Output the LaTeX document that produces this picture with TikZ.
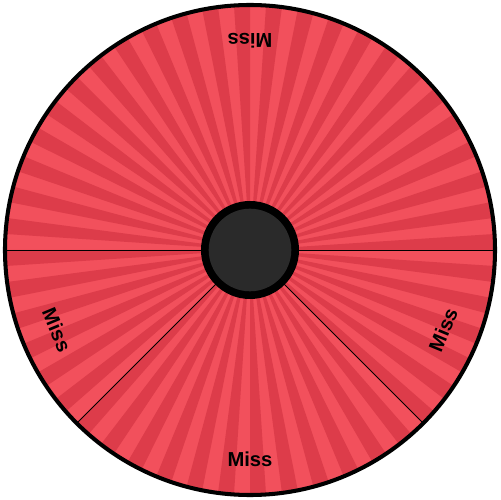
\documentclass[tikz,border=0pt]{standalone}
\usepackage{fontspec}
\setmainfont{Liberation Sans}
\usepackage{tikz}
\usetikzlibrary{calc}
\usepackage{xcolor}
\definecolor{WheelLight}{HTML}{F2505C}
\definecolor{WheelDark}{HTML}{DD3C4A}
\definecolor{HubGray}{HTML}{2A2A2A}
\definecolor{Ink}{HTML}{000000}

\begin{document}
\begin{tikzpicture}[x=0.02cm,y=0.02cm,
  divider/.style={Ink,line width=0.5pt},
  misslabel/.style={font=\bfseries\fontsize{11.5pt}{13pt}\selectfont,text=Ink,inner sep=0pt}]
  \useasboundingbox (-250,-250) rectangle (250,250);
  \coordinate (C) at (0,0);

  % Disco base con rayos alternos, 48 pares de 7.5 grados.
  \fill[WheelLight] (C) circle (245);
  \foreach \k in {0,...,47}{
    \fill[WheelDark] (C) -- ({7.5*\k}:245)
      arc[start angle={7.5*\k},end angle={7.5*\k+3.75},radius=245] -- cycle;
  }

  % Separadores entre sectores.
  \foreach \a/\nm in {0/e,180/w,225/sw,315/se}
    \coordinate (rim-\nm) at (\a:245);
  \draw[divider] (C) -- (rim-e);
  \draw[divider] (C) -- (rim-w);
  \draw[divider] (C) -- (rim-sw);
  \draw[divider] (C) -- (rim-se);

  % Etiquetas, giradas con el sector.
  \node[misslabel,rotate=180]   (miss-top)    at (90:209)    {Miss};
  \node[misslabel,rotate=-67.5] (miss-left)   at (202.5:209) {Miss};
  \node[misslabel]              (miss-bottom) at (270:209)   {Miss};
  \node[misslabel,rotate=67.5]  (miss-right)  at (337.5:209) {Miss};

  % Borde exterior y eje central.
  \draw[Ink,line width=2.3pt] (C) circle (245);
  \fill[Ink] (C) circle (49);
  \fill[HubGray] (C) circle (41.3);
\end{tikzpicture}
\end{document}
